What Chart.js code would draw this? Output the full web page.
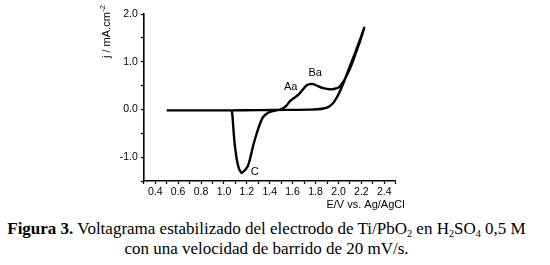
<!DOCTYPE html>
<html><head><meta charset="utf-8">
<script src="https://cdn.jsdelivr.net/npm/chart.js@4.4.0/dist/chart.umd.min.js"></script>
<style>
html,body{margin:0;padding:0;background:#fff;width:550px;height:265px;overflow:hidden}
#wrap{position:absolute;left:0;top:0;width:550px;height:212px}
#cap{position:absolute;left:0;top:220px;width:533px;text-align:center;font-family:"Liberation Serif","Times New Roman",serif;font-size:17px;line-height:18px;color:#000;white-space:nowrap}
#cap sub{font-size:0.6em;vertical-align:baseline;position:relative;top:0.28em}
</style></head><body>
<div id="wrap"><canvas id="c" width="550" height="212"></canvas></div>
<div id="cap"><b>Figura 3.</b> Voltagrama estabilizado del electrodo de Ti/PbO<sub>2</sub> en H<sub>2</sub>SO<sub>4</sub> 0,5 M<br>con una velocidad de barrido de 20 mV/s.</div>
<script>
// Potential (V vs. Ag/AgCl) and current density (mA/cm2), in scan order
const potential = [
  0.50, 0.80, 1.05, 1.30, 1.55, 1.75, 1.82, 1.87, 1.91, 1.94, 1.965, 1.99, 2.02, 2.05, 2.08, 2.11, 2.14, 2.17, 2.20, 2.225,
  2.19, 2.15, 2.11, 2.07, 2.04, 2.01, 1.98, 1.94, 1.90, 1.86, 1.82, 1.78, 1.75, 1.72, 1.69, 1.66, 1.63, 1.60, 1.575, 1.55,
  1.52, 1.48, 1.43, 1.386, 1.342, 1.313, 1.284, 1.256, 1.21, 1.157, 1.143, 1.128, 1.113, 1.103, 1.093, 1.083, 1.075, 1.068, 1.06, 0.80, 0.50
];
const current = [
  -0.02, -0.02, -0.02, -0.015, -0.01, -0.005, 0.005, 0.02, 0.05, 0.10, 0.17, 0.27, 0.42, 0.59, 0.78, 0.97, 1.15, 1.34, 1.54, 1.71,
  1.44, 1.17, 0.91, 0.70, 0.57, 0.48, 0.44, 0.42, 0.43, 0.45, 0.49, 0.53, 0.53, 0.50, 0.42, 0.33, 0.27, 0.22, 0.17, 0.09,
  0.03, -0.01, -0.035, -0.07, -0.16, -0.31, -0.52, -0.75, -1.18, -1.33, -1.30, -1.22, -1.06, -0.90, -0.71, -0.42, -0.15, -0.03, -0.02, -0.02, -0.02
];
const xTickLabels = ['0.4','0.6','0.8','1.0','1.2','1.4','1.6','1.8','2.0','2.2','2.4'];
const yTickLabels = ['-1.0','0.0','1.0','2.0'];
const peakNames = ['Aa', 'Ba', 'C'];
const peakE = [1.583, 1.797, 1.269];
const peakJ = [0.47, 0.77, -1.31];

const pts = potential.map((e, i) => ({x: e, y: current[i]}));
const FONT = '"Liberation Sans", Arial, sans-serif';

const annot = {
  id: 'annot',
  afterDatasetsDraw(chart) {
    const ctx = chart.ctx, xs = chart.scales.x, ys = chart.scales.y, ca = chart.chartArea;
    ctx.save();
    ctx.fillStyle = '#000';
    ctx.font = '11px ' + FONT;
    ctx.textAlign = 'center'; ctx.textBaseline = 'middle';
    peakNames.forEach((n, i) => ctx.fillText(n, xs.getPixelForValue(peakE[i]), ys.getPixelForValue(peakJ[i])));
    // x title
    ctx.font = '11px ' + FONT;
    ctx.textAlign = 'right'; ctx.textBaseline = 'alphabetic';
    ctx.fillText('E/V vs. Ag/AgCl', ca.right + 9, 208);
    // y title rotated
    ctx.translate(110, 58);
    ctx.rotate(-Math.PI / 2);
    ctx.textAlign = 'left';
    ctx.font = '11px ' + FONT;
    const main = 'j / mA.cm';
    ctx.fillText(main, 0, 0);
    const w = ctx.measureText(main).width;
    ctx.font = '7.5px ' + FONT;
    ctx.fillText('-2', w + 0.5, -5);
    ctx.restore();
  }
};

new Chart(document.getElementById('c'), {
  type: 'scatter',
  data: { datasets: [{
    data: pts, showLine: true, borderColor: '#000', borderWidth: 2.4,
    pointRadius: 0, tension: 0.25, fill: false
  }]},
  options: {
    responsive: false, animation: false,
    layout: { padding: { left: 103.8, right: 154.3, top: 14, bottom: 11 } },
    plugins: { legend: { display: false }, tooltip: { enabled: false } },
    scales: {
      x: {
        type: 'linear', min: 0.3, max: 2.5,
        afterFit(s) { s.height = 20; },
        afterBuildTicks(s) {
          const t = [];
          for (let k = 3; k <= 25; k++) t.push({ value: k / 10 });
          s.ticks = t;
        },
        grid: { display: true, drawOnChartArea: false, drawTicks: true, tickLength: 3, tickColor: '#000', tickWidth: 1.3 },
        border: { display: true, color: '#000', width: 1.6 },
        ticks: {
          autoSkip: false, maxRotation: 0, padding: 2, color: '#000',
          font: { family: FONT, size: 10.5 },
          callback(v) { const s = v.toFixed(1); return xTickLabels.includes(s) ? s : ''; }
        }
      },
      y: {
        type: 'linear', min: -1.5, max: 2.0,
        afterFit(s) { s.width = 40; },
        afterBuildTicks(s) {
          const t = [];
          for (let k = -3; k <= 4; k++) t.push({ value: k / 2 });
          s.ticks = t;
        },
        grid: { display: true, drawOnChartArea: false, drawTicks: true, tickLength: 3, tickColor: '#000', tickWidth: 1.3 },
        border: { display: true, color: '#000', width: 1.6 },
        ticks: {
          autoSkip: false, padding: 3, color: '#000',
          font: { family: FONT, size: 10.5 },
          callback(v) { const s = v.toFixed(1); return yTickLabels.includes(s) ? s : ''; }
        }
      }
    }
  },
  plugins: [annot]
});
</script>
</body></html>
